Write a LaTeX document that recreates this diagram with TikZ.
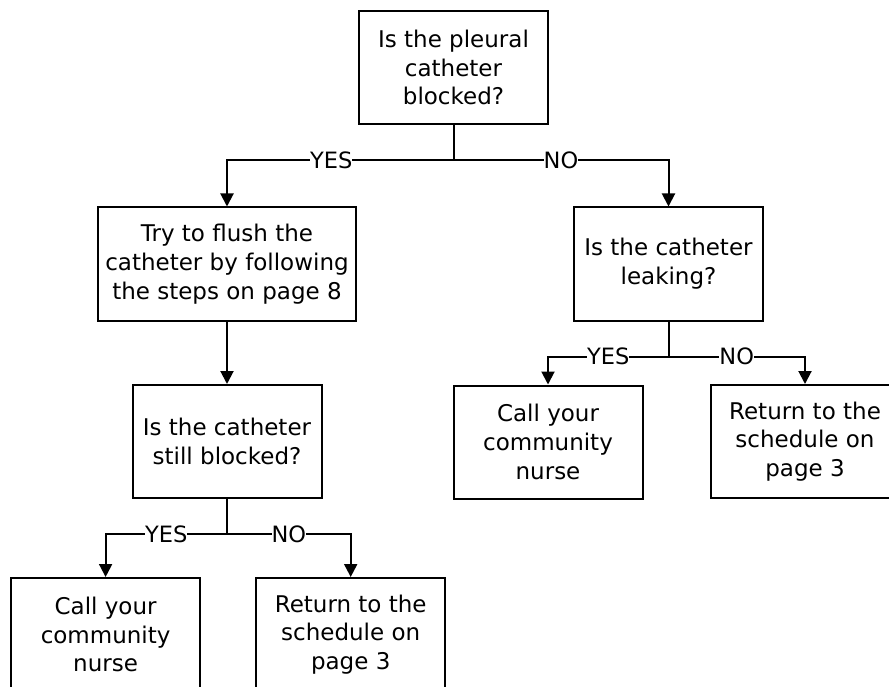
\documentclass[tikz,border=0pt]{standalone}
\usepackage{fontspec}
\setmainfont{DejaVu Sans}
\usetikzlibrary{arrows.meta}

\begin{document}
\begin{tikzpicture}[x=1pt,y=-1pt,>={Triangle[length=13pt,width=13pt]},line width=2pt]
%\draw [help lines] (0,0) grid (889,687);
\tikzset{
	boxA/.style={
		rectangle,
		inner sep=0pt,
		align=center,
		draw=black,
		minimum width=189pt,
		minimum height=113pt,
		font=\fontsize{23}{28.7}\selectfont
	},
	boxB/.style={
		boxA,
		minimum width=258pt
	},
	lbl/.style={
		fill=white,
		inner sep=0pt,
		font=\fontsize{22.5}{26}\selectfont
	},
}
\useasboundingbox (0,0) rectangle (889,687);

\node (a) [boxA] at (453.5,67.5) {Is the pleural\\ catheter\\ blocked?};
\node (b) [boxB] at (227,264) {Try to flush the\\ catheter by following\\ the steps on page 8};
\node (c) [boxA] at (668.5,264) {Is the catheter\\ leaking?};
\node (d) [boxA] at (227,441.5) {Is the catheter\\ still blocked?};
\node (e) [boxA] at (548,442) {Call your\\ community\\ nurse};
\node (f) [boxA] at (805,441.5) {Return to the\\ schedule on\\ page 3};
\node (g) [boxA] at (105.6,634.5) {Call your\\ community\\ nurse};
\node (h) [boxA] at (350.7,634.5) {Return to the\\ schedule on\\ page 3};
\coordinate (a1) at (453.5,160);
\coordinate (c1) at (668.5,356.7);
\coordinate (d1) at (227,534);

\draw (a) -- (a1);
\draw [->] (a1) -| node [lbl,pos=0.27] {YES} (b);
\draw [->] (a1) -| node [lbl,pos=0.25] {NO} (c);
\draw [->] (b) -- (d);
\draw (c) -- (c1);
\draw [->] (c1) -| node [lbl,pos=0.25] {YES} (e);
\draw [->] (c1) -| node [lbl,pos=0.25] {NO} (f);
\draw (d) -- (d1);
\draw [->] (d1) -| node [lbl,pos=0.25] {YES} (g);
\draw [->] (d1) -| node [lbl,pos=0.25] {NO} (h);
\end{tikzpicture}
\end{document}
